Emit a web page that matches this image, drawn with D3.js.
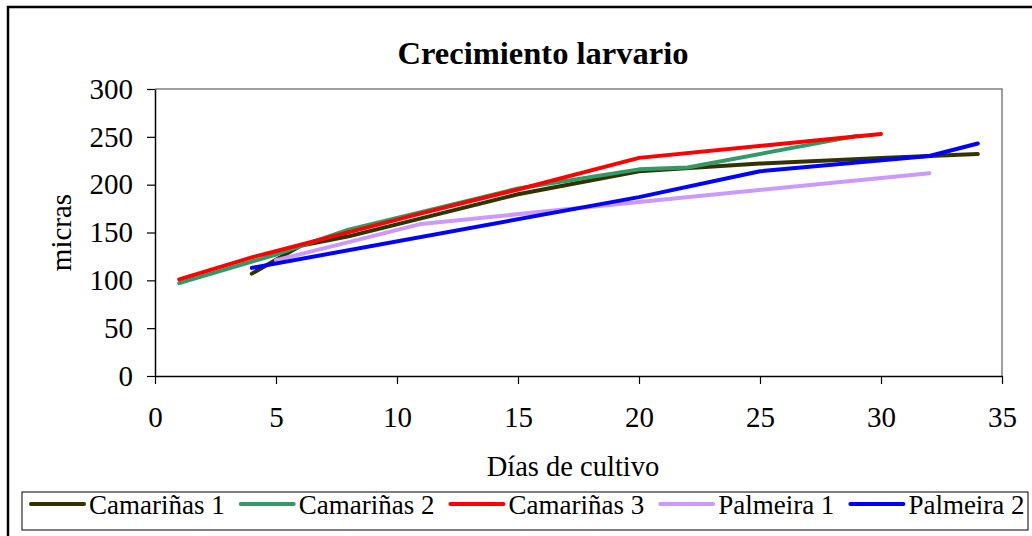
<!DOCTYPE html>
<html>
<head>
<meta charset="utf-8">
<script src="https://cdn.jsdelivr.net/npm/d3@7"></script>
<style>
  body { margin: 0; background: #fff; }
  svg text { font-family: "Liberation Serif", "Times New Roman", serif; fill: #000; }
</style>
</head>
<body>
<div id="chart"></div>
<script>
// values
const seriesNames = ["Camariñas 1", "Camariñas 2", "Camariñas 3", "Palmeira 1", "Palmeira 2"];
const seriesColors = ["#333300", "#339966", "#ff0000", "#cc99ff", "#0000ff"];

const camarinas1 = [[4, 107], [6, 136], [8, 146], [15, 190], [20, 214], [25, 222], [30, 228], [34, 232]];
const camarinas2 = [[1, 97], [5, 127], [8, 153], [15, 196], [20, 216], [22, 218], [29, 251]];
const camarinas3 = [[1, 101], [4, 124], [11, 170], [15, 195], [20, 228], [30, 253]];
const palmeira1 = [[5, 121], [8, 140], [11, 159], [20, 182], [32, 212]];
const palmeira2 = [[4, 113], [20, 187], [25, 214], [32, 230], [34, 243]];

const xTicks = [0, 5, 10, 15, 20, 25, 30, 35];
const yTicks = [0, 50, 100, 150, 200, 250, 300];

const allSeries = [camarinas1, camarinas2, camarinas3, palmeira1, palmeira2];

const W = 1032, H = 536;
const plot = { left: 155, top: 89, right: 1002, bottom: 376 };

const svg = d3.select("#chart").append("svg")
  .attr("width", W)
  .attr("height", H);

// outer chart frame
svg.append("rect")
  .attr("x", 8).attr("y", 7)
  .attr("width", 1040).attr("height", 560)
  .attr("fill", "none")
  .attr("stroke", "#000")
  .attr("stroke-width", 2.5);

const x = d3.scaleLinear().domain([0, 35]).range([plot.left, plot.right]);
const y = d3.scaleLinear().domain([0, 300]).range([plot.bottom, plot.top]);

// plot area border (grey top / right)
svg.append("path")
  .attr("d", `M${plot.left},${plot.top}H${plot.right}V${plot.bottom}`)
  .attr("fill", "none")
  .attr("stroke", "#808080")
  .attr("stroke-width", 1.5);

// axes
const xAxis = svg.append("g")
  .attr("transform", `translate(0,${plot.bottom})`)
  .call(d3.axisBottom(x).tickValues(xTicks).tickSize(8).tickPadding(22).tickSizeOuter(0));
const yAxis = svg.append("g")
  .attr("transform", `translate(${plot.left},0)`)
  .call(d3.axisLeft(y).tickValues(yTicks).tickSize(8).tickPadding(14).tickSizeOuter(0));

[xAxis, yAxis].forEach(a => {
  a.select(".domain").attr("stroke", "#000").attr("stroke-width", 1.5);
  a.selectAll(".tick line").attr("stroke", "#000").attr("stroke-width", 1.2);
  a.selectAll(".tick text")
    .attr("font-family", "Liberation Serif, Times New Roman, serif")
    .attr("font-size", 29)
    .attr("fill", "#000");
});

// lines
const line = d3.line().x(d => x(d[0])).y(d => y(d[1]));
svg.append("g").selectAll("path")
  .data(allSeries)
  .join("path")
  .attr("d", line)
  .attr("fill", "none")
  .attr("stroke", (d, i) => seriesColors[i])
  .attr("stroke-width", 4)
  .attr("stroke-linecap", "round")
  .attr("stroke-linejoin", "round");

// title and axis labels
svg.append("text")
  .attr("x", 543).attr("y", 64)
  .attr("text-anchor", "middle")
  .attr("font-size", 32.5)
  .attr("font-weight", "bold")
  .text("Crecimiento larvario");

svg.append("text")
  .attr("transform", `translate(71,${(plot.top + plot.bottom) / 2}) rotate(-90)`)
  .attr("text-anchor", "middle")
  .attr("font-size", 29)
  .text("micras");

svg.append("text")
  .attr("x", 573).attr("y", 476)
  .attr("text-anchor", "middle")
  .attr("font-size", 28.5)
  .text("Días de cultivo");

// legend
const legend = svg.append("g");
legend.append("rect")
  .attr("x", 22).attr("y", 492)
  .attr("width", 1006).attr("height", 38)
  .attr("fill", "#fff")
  .attr("stroke", "#000")
  .attr("stroke-width", 1);

let lx = 31;
seriesNames.forEach((name, i) => {
  const g = legend.append("g");
  g.append("line")
    .attr("x1", lx).attr("x2", lx + 53)
    .attr("y1", 504).attr("y2", 504)
    .attr("stroke", seriesColors[i])
    .attr("stroke-width", 4)
    .attr("stroke-linecap", "round");
  const t = g.append("text")
    .attr("x", lx + 58).attr("y", 514)
    .attr("font-size", 27)
    .text(name);
  lx += 58 + t.node().getComputedTextLength() + 16;
});
</script>
</body>
</html>
